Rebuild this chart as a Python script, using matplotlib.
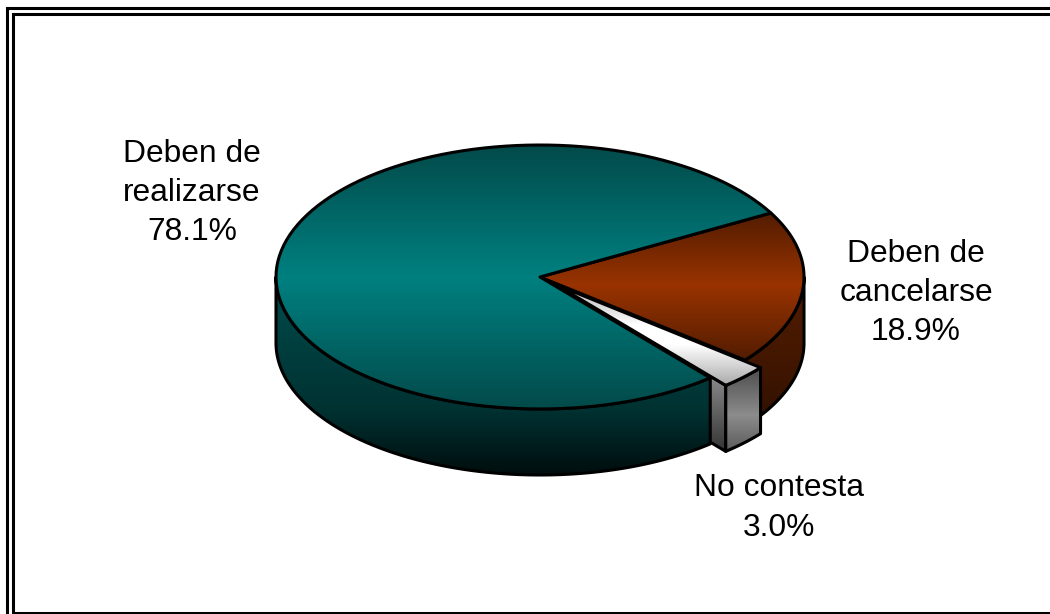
import numpy as np
import matplotlib
matplotlib.use('Agg')
import matplotlib.pyplot as plt
from matplotlib.colors import LinearSegmentedColormap
from matplotlib.patches import Polygon

names = ['Deben de\nrealizarse', 'Deben de\ncancelarse', 'No contesta']
values = [78.1, 18.9, 3.0]

plt.rcParams['font.family'] = ['Liberation Sans', 'DejaVu Sans']

# pie geometry in picture pixels
cx, cy = 540, 277
rx, ry = 264, 132
depth = 66
start = 29.0   # angle where the first slice starts, goes counter clockwise
shift = (15.5, 7.5)   # small slice pulled out

LW = 2.2

fig = plt.figure(figsize=(10.5, 6.14), dpi=100)
ax = fig.add_axes([0, 0, 1, 1])


def arc(a0, a1, off=(0, 0), drop=0):
    t = np.radians(np.linspace(a0, a1, 120))
    return np.column_stack([cx + off[0] + rx * np.cos(t),
                            cy + off[1] + drop - ry * np.sin(t)])


def shaded(points, stops, z):
    # polygon filled with a vertical gradient, stops are (y, colour)
    y0, y1 = stops[0][0], stops[-1][0]
    pos = [(s[0] - y0) / (y1 - y0) for s in stops]
    cmap = LinearSegmentedColormap.from_list('g', list(zip(pos, [s[1] for s in stops])))
    grad = np.linspace(0, 1, 256).reshape(-1, 1)
    x0, x1 = points[:, 0].min(), points[:, 0].max()
    im = ax.imshow(grad, cmap=cmap, extent=(x0, x1, y1, y0), aspect='auto',
                   interpolation='bilinear', zorder=z)
    poly = Polygon(points, closed=True, facecolor='none', edgecolor='black',
                   linewidth=LW, joinstyle='round', zorder=z + 0.5)
    ax.add_patch(poly)
    im.set_clip_path(poly)


# slice angles come from the values
a_big_start = start
a_big_end = a_big_start + values[0] * 3.6
a_mid_start = start
a_mid_end = a_mid_start - values[1] * 3.6
a_small_start = a_mid_end
a_small_end = a_small_start - values[2] * 3.6
centre = np.array([[cx, cy]])
small_apex = np.array([[cx + shift[0], cy + shift[1]]])

# brown side
edge = arc(a_mid_end, 0)
wall = np.vstack([edge, arc(0, a_mid_end, drop=depth)])
shaded(wall, [(277, '#4f1b00'), (345, '#461800'), (440, '#2c0f00')], 1)

# small slice: cut face, outer face, top
p_right = arc(a_small_start, a_small_start, off=shift)[0]
p_tip = arc(a_small_end, a_small_end, off=shift)[0]
face = np.vstack([small_apex, [p_tip], [p_tip + [0, depth]], small_apex + [0, depth]])
shaded(face, [(376, '#8a8a8a'), (452, '#333333')], 2)
outer = np.vstack([arc(a_small_start, a_small_end, off=shift),
                   arc(a_small_end, a_small_start, off=shift, drop=depth)])
shaded(outer, [(368, '#4d4d4d'), (415, '#8c8c8c'), (452, '#5a5a5a')], 3)
top = np.vstack([small_apex, arc(a_small_start, a_small_end, off=shift)])
shaded(top, [(284, '#b0b0b0'), (325, '#ffffff'), (345, '#ffffff'), (386, '#a8a8a8')], 4)

# brown top
top = np.vstack([centre, arc(a_mid_start, a_mid_end)])
shaded(top, [(213, '#531c00'), (285, '#993300'), (360, '#531c00')], 5)

# teal side
wall = np.vstack([arc(-180, a_big_end - 360), arc(a_big_end - 360, -180, drop=depth)])
shaded(wall, [(277, '#004c4c'), (409, '#003232'), (475, '#000d0d')], 6)

# teal top
top = np.vstack([centre, arc(a_big_start, a_big_end)])
shaded(top, [(145, '#034a4a'), (277, '#008080'), (409, '#034a4a')], 7)

# labels
label_pos = [(192, 193), (916, 293), (779, 508)]
for name, val, (lx, ly) in zip(names, values, label_pos):
    ax.text(lx, ly, f'{name}\n{val:.1f}%', ha='center', va='center', fontsize=22.9,
            linespacing=1.4, color='black', zorder=10)

# double frame, the right and bottom sides run off the picture
ax.plot([1050, 6.5, 6.5], [8.2, 8.2, 614], color='black', lw=2.2, solid_joinstyle='miter', zorder=11)
ax.plot([1050, 12.5, 12.5, 1050], [13.8, 13.8, 612.8, 612.8], color='black', lw=2.2,
        solid_joinstyle='miter', zorder=11)

ax.set_xlim(0, 1050)
ax.set_ylim(614, 0)
ax.axis('off')

fig.savefig('out.png', dpi=100, facecolor='white')
